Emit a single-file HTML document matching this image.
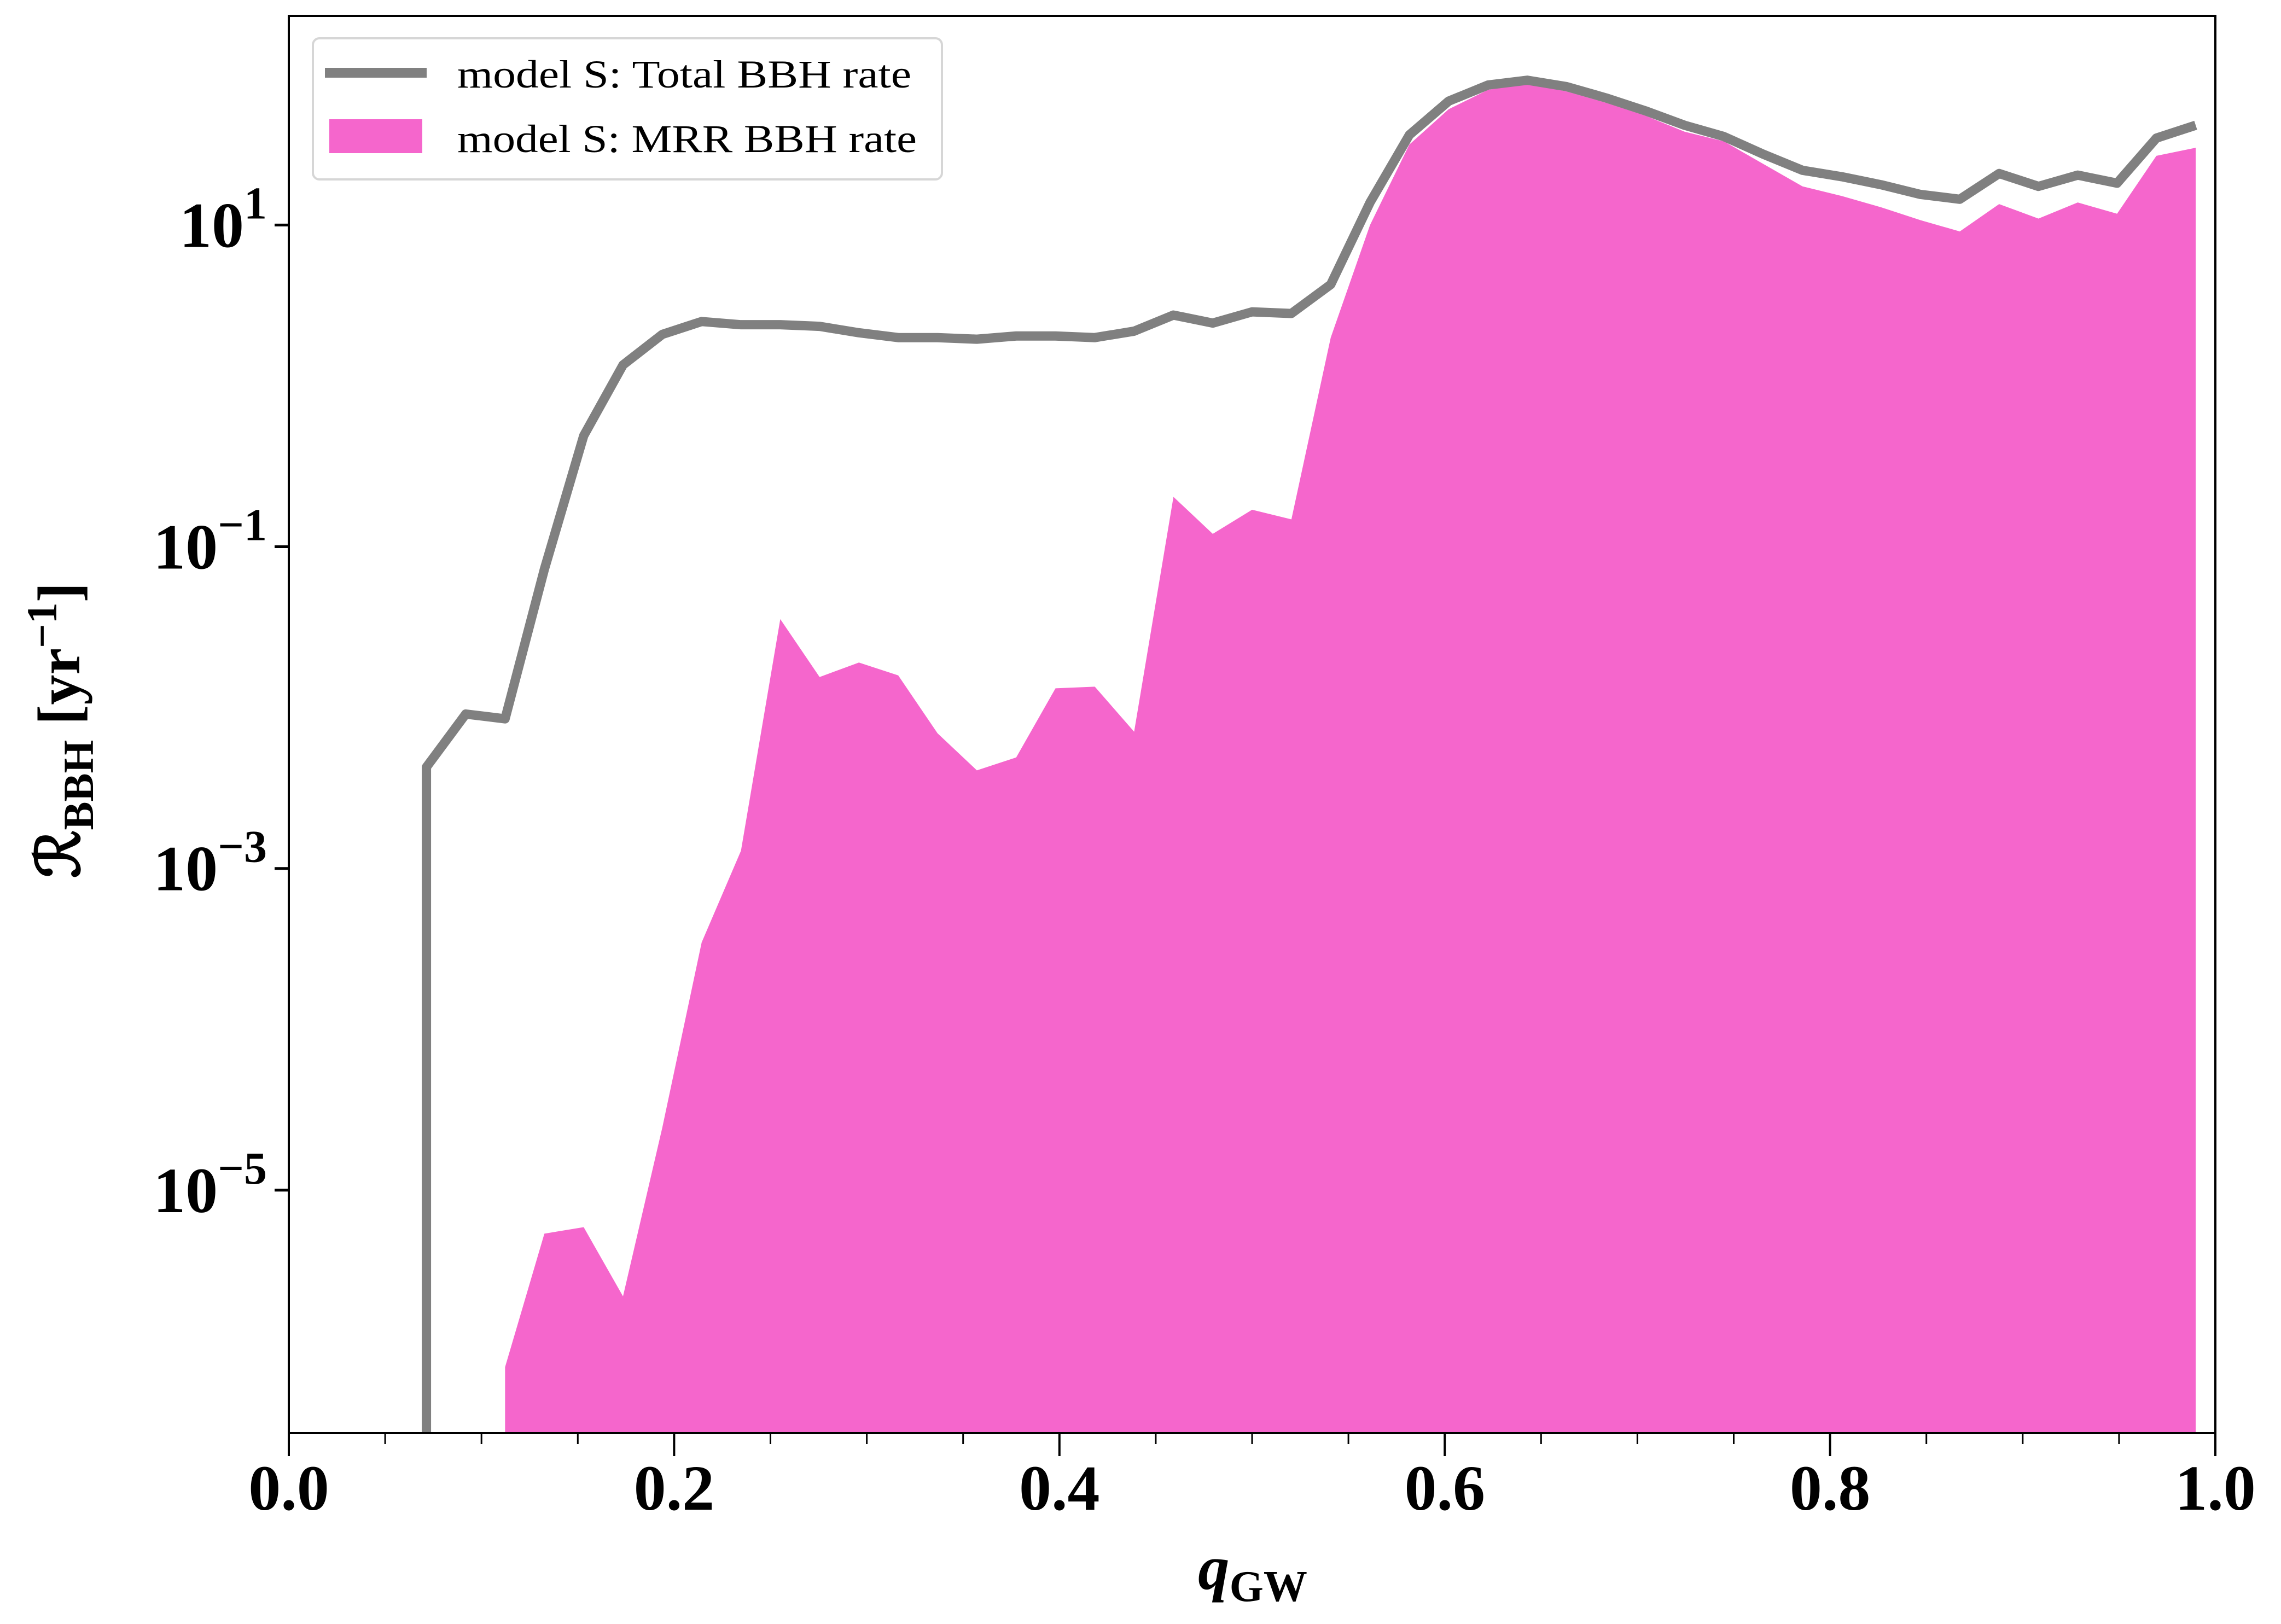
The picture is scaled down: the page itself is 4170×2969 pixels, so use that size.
<!DOCTYPE html>
<html><head><meta charset="utf-8"><style>
html,body{margin:0;padding:0;background:#fff}
svg{display:block}
text{font-family:"Liberation Serif","DejaVu Serif",serif}
</style></head><body>
<svg id="chart" width="4170" height="2969" viewBox="0 0 4170 2969" xmlns="http://www.w3.org/2000/svg">
<rect width="4170" height="2969" fill="#fff"/>
<g id="plot"></g>
<g id="axes"></g>
<g>
<rect x="572" y="70" width="1150" height="258" rx="12" fill="#fff" stroke="#d6d6d6" stroke-width="4"/>
<line x1="594" y1="133" x2="780" y2="133" stroke="#808080" stroke-width="18"/>
<text x="836" y="160" font-size="72" textLength="830" lengthAdjust="spacingAndGlyphs">model S: Total BBH rate</text>
<rect x="602" y="218" width="170" height="62" fill="#f566cc"/>
<text x="836" y="278" font-size="72" textLength="840" lengthAdjust="spacingAndGlyphs">model S: MRR BBH rate</text>
</g>
<text transform="translate(145,1335) rotate(-90)" text-anchor="middle" font-size="110" font-weight="bold">ℛ<tspan font-size="78" dy="25">BBH</tspan><tspan dy="-25"> [yr</tspan><tspan font-size="78" dy="-42">−1</tspan><tspan dy="42">]</tspan></text>
<text x="2290" y="2905" text-anchor="middle" font-size="115" font-weight="bold" font-style="italic">q<tspan font-size="80" font-style="normal" dy="22">GW</tspan></text>
</svg>
<script>
const xBins = 49;
const totalStart = 3;
const totalLog = [-2.37,-2.04,-2.07,-1.14,-0.31,0.13,0.32,0.40,0.38,0.38,0.37,0.33,0.30,0.30,0.29,0.31,0.31,0.30,0.34,0.44,0.39,0.46,0.45,0.63,1.14,1.56,1.77,1.87,1.90,1.86,1.79,1.71,1.62,1.55,1.44,1.34,1.30,1.25,1.19,1.16,1.32,1.24,1.31,1.26,1.54,1.62];
const mrrStart = 5;
const mrrLog = [-6.10,-5.27,-5.23,-5.66,-4.61,-3.46,-2.89,-1.45,-1.81,-1.72,-1.80,-2.16,-2.39,-2.31,-1.88,-1.87,-2.15,-0.69,-0.92,-0.77,-0.83,0.30,1.00,1.50,1.72,1.84,1.88,1.83,1.76,1.68,1.58,1.52,1.38,1.24,1.18,1.11,1.03,0.96,1.13,1.04,1.14,1.07,1.43,1.48];
const xTicks = [0,0.2,0.4,0.6,0.8,1.0];
const xTickLabels = ["0.0","0.2","0.4","0.6","0.8","1.0"];
const yTickExps = [1,-1,-3,-5];
const yTickLabels = ["1","−1","−3","−5"];

const L=528,R=4050,T=29,B=2620;
const yMin=-6.51,yMax=2.30;
const sx=v=>L+(R-L)*v;
const sy=lg=>B-(B-T)*(lg-yMin)/(yMax-yMin);
const NS="http://www.w3.org/2000/svg";
const plot=document.getElementById('plot'), axes=document.getElementById('axes');
function mk(tag,attrs,parent){const e=document.createElementNS(NS,tag);for(const k in attrs)e.setAttribute(k,attrs[k]);parent.appendChild(e);return e;}

let d=`M${sx((mrrStart+0.5)/xBins)},${B}`;
mrrLog.forEach((v,i)=>{d+=` L${sx((mrrStart+i+0.5)/xBins)},${sy(v)}`;});
d+=` L${sx((mrrStart+mrrLog.length-0.5)/xBins)},${B} Z`;
const area=mk('path',{d:d,fill:'#f566cc'},plot);



let d2=`M${sx((totalStart+0.5)/xBins)},${B}`;
totalLog.forEach((v,i)=>{d2+=` L${sx((totalStart+i+0.5)/xBins)},${sy(v)}`;});
const line=mk('path',{d:d2,fill:'none',stroke:'#808080','stroke-width':17,'stroke-linejoin':'round'},plot);



const frame=mk('rect',{x:L,y:T,width:R-L,height:B-T,fill:'none',stroke:'#000','stroke-width':4},axes);



for(let k=0;k<=20;k++){
  const v=k*0.05, major=(k%4===0);
  const t=mk('line',{x1:sx(v),y1:B,x2:sx(v),y2:B+(major?42:20),stroke:'#000','stroke-width':major?4:3},axes);
  
  
}
xTicks.forEach((v,i)=>{
  const t=mk('text',{x:sx(v),y:2760,'text-anchor':'middle','font-size':118,'font-weight':'bold'},axes);
  t.textContent=xTickLabels[i];
  
  
});
yTickExps.forEach((e,i)=>{
  const y=sy(e);
  const tk=mk('line',{x1:L-26,y1:y,x2:L,y2:y,stroke:'#000','stroke-width':5},axes);
  
  
  const t=mk('text',{x:L-40,y:y+40,'text-anchor':'end','font-size':118,'font-weight':'bold'},axes);
  const a=document.createElementNS(NS,'tspan');a.textContent='10';t.appendChild(a);
  const b=document.createElementNS(NS,'tspan');b.setAttribute('dy','-52');b.setAttribute('font-size','84');b.textContent=yTickLabels[i];t.appendChild(b);
  
  
});
</script>
</body></html>
